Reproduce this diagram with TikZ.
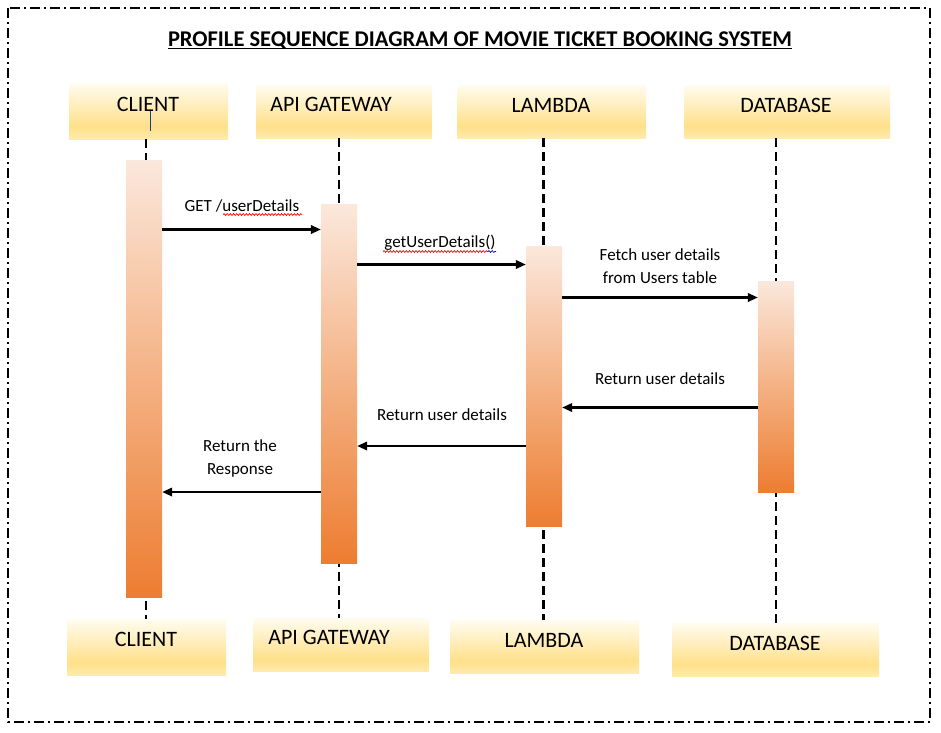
\documentclass[tikz,border=0pt]{standalone}
\usepackage{fontspec}
\setmainfont{Carlito}
\usetikzlibrary{arrows.meta,decorations.pathmorphing}
\definecolor{hA}{HTML}{FFFCF0}
\definecolor{hB}{HTML}{FFE08A}
\definecolor{hC}{HTML}{FFEBAE}
\definecolor{bA}{HTML}{FBE8DC}
\definecolor{bB}{HTML}{F4B183}
\definecolor{bC}{HTML}{ED7D31}
\definecolor{cursorblue}{HTML}{1F3A8A}
\pgfdeclareverticalshading{hdrshade}{100bp}{color(0bp)=(hC); color(25bp)=(hC); color(36bp)=(hB); color(75bp)=(hA); color(100bp)=(hA)}
\pgfdeclareverticalshading{barshade}{100bp}{color(0bp)=(bC); color(25bp)=(bC); color(50bp)=(bB); color(75bp)=(bA); color(100bp)=(bA)}
\tikzset{
  hdrbox/.style={rectangle, draw=none, inner sep=0pt, shading=hdrshade},
  actbar/.style={rectangle, draw=none, inner sep=0pt, minimum width=36pt, shading=barshade},
  hdrtext/.style={inner sep=0pt, anchor=base, font=\fontsize{22}{26}\selectfont},
  msgtext/.style={inner sep=0pt, anchor=base, align=center, font=\fontsize{17}{23}\selectfont},
  life/.style={line width=2.1pt, dash pattern=on 9pt off 5pt},
  msg/.style={line width=2.1pt, -{Triangle[length=10pt,width=8.5pt]}},
  squig/.style={line width=0.7pt, decorate, decoration={snake, amplitude=0.9pt, segment length=3.2pt}},
}
\begin{document}
\begin{tikzpicture}[x=1pt,y=-1pt]
\useasboundingbox (0,0) rectangle (941,732);
\fill[white] (0,0) rectangle (941,732);
% border
\draw[line width=1.8pt, dash pattern=on 10pt off 4pt on 2pt off 4pt] (8,8) rectangle (930,722);
% title
\node[inner sep=0pt, anchor=base, font=\bfseries\fontsize{22.5}{27}\selectfont] (title) at (480,46) {PROFILE SEQUENCE DIAGRAM OF MOVIE TICKET BOOKING SYSTEM};
\draw[line width=1.5pt] ([yshift=-2.3pt]title.base west) -- ([yshift=-2.3pt]title.base east);
% header boxes (top)
\node[hdrbox, minimum width=159pt, minimum height=56pt] (ct) at (148.5,111) {};
\node[hdrbox, minimum width=176pt, minimum height=53pt] (at) at (344,111.5) {};
\node[hdrbox, minimum width=189pt, minimum height=53pt] (lt) at (551.5,111.5) {};
\node[hdrbox, minimum width=206pt, minimum height=53pt] (dt) at (787,111.5) {};
% header boxes (bottom)
\node[hdrbox, minimum width=159pt, minimum height=56pt] (cb) at (146.5,647) {};
\node[hdrbox, minimum width=176pt, minimum height=53pt] (ab) at (341,644.5) {};
\node[hdrbox, minimum width=189pt, minimum height=53pt] (lb) at (544.5,646.5) {};
\node[hdrbox, minimum width=207pt, minimum height=53pt] (db) at (775.5,649.5) {};
% header texts
\node[hdrtext] (ctt) at (148,111) {CLIENT};
\node[hdrtext] (att) at (331,111) {API GATEWAY};
\node[hdrtext] (ltt) at (551,112) {LAMBDA};
\node[hdrtext] (dtt) at (786,112) {DATABASE};
\node[hdrtext] (cbt) at (146,646) {CLIENT};
\node[hdrtext] (abt) at (329,644) {API GATEWAY};
\node[hdrtext] (lbt) at (544,647) {LAMBDA};
\node[hdrtext] (dbt) at (775,650) {DATABASE};
% cursor mark
\coordinate (cur1) at (150,111);
\coordinate (cur2) at (150,131);
\draw[cursorblue, line width=1pt] (cur1) -- (cur2);
% lifeline x positions
\coordinate (lx1) at (146,0);
\coordinate (lx2) at (339,0);
\coordinate (lx3) at (543.5,0);
\coordinate (lx4) at (776,0);
\draw[life] (ct.south -| lx1) -- (cb.north -| lx1);
\draw[life] (at.south -| lx2) -- (ab.north -| lx2);
\draw[life] (lt.south -| lx3) -- (lb.north -| lx3);
\draw[life] (dt.south -| lx4) -- (db.north -| lx4);
% activation bars
\node[actbar, minimum height=437pt] (cbar) at (144,378.5) {};
\node[actbar, minimum height=359pt] (abar) at (339,383.5) {};
\node[actbar, minimum height=280pt] (lbar) at (544,386) {};
\node[actbar, minimum height=211pt] (dbar) at (776,386.5) {};
% message rows
\coordinate (y1) at (0,229.5);
\coordinate (y2) at (0,264.5);
\coordinate (y3) at (0,297.5);
\coordinate (y4) at (0,407.5);
\coordinate (y5) at (0,446);
\coordinate (y6) at (0,492);
\draw[msg] (cbar.east |- y1) -- (abar.west |- y1);
\draw[msg] (abar.east |- y2) -- (lbar.west |- y2);
\draw[msg] (lbar.east |- y3) -- (dbar.west |- y3);
\draw[msg] (dbar.west |- y4) -- (lbar.east |- y4);
\draw[msg] (lbar.west |- y5) -- (abar.east |- y5);
\draw[msg] (abar.west |- y6) -- (cbar.east |- y6);
% message labels
\node[msgtext] (m1) at (242,211) {GET /userDetails};
\node[msgtext] (m2) at (440,247) {getUserDetails()};
\node[msgtext] (m3) at (660,283) {Fetch user details\\from Users table};
\node[msgtext] (m4) at (660,384) {Return user details};
\node[msgtext] (m5) at (442,420) {Return user details};
\node[msgtext] (m6) at (240,474) {Return the\\Response};
% spell-check squiggles
\draw[squig, red] (223,214.5) -- (302,214.5);
\draw[squig, red] (383,251.5) -- (488,251.5);
\draw[squig, blue] (488,251.5) -- (496,251.5);
\end{tikzpicture}
\end{document}
